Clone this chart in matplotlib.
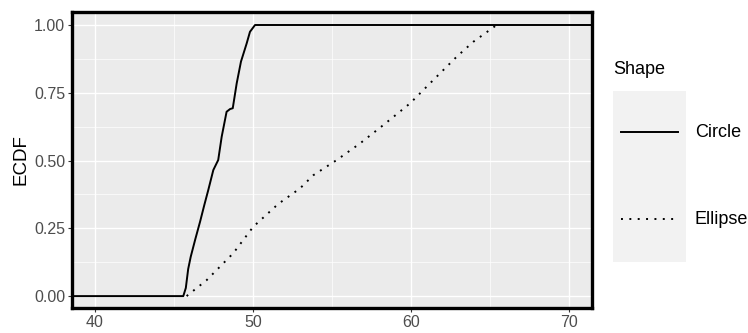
# ECDF of diameter by shape, drawn in ggplot-like style
import matplotlib
matplotlib.use("Agg")
import matplotlib.pyplot as plt
from matplotlib.lines import Line2D
from matplotlib.patches import Rectangle

plt.rcParams['font.family'] = ['Liberation Sans', 'DejaVu Sans']

# ECDF curves (padded at both ends like stat_ecdf)
circle_x = [30, 45.59, 45.75, 45.90, 46.06, 46.35, 46.65, 46.92, 47.17, 47.49,
            47.80, 48.02, 48.33, 48.55, 48.72, 48.97, 49.24, 49.60, 49.81, 50.13, 80]
circle_y = [0.0, 0.0, 0.03, 0.10, 0.145, 0.21, 0.274, 0.336, 0.391, 0.465,
            0.502, 0.588, 0.680, 0.690, 0.693, 0.785, 0.865, 0.932, 0.975, 1.0, 1.0]

ellipse_x = [45.8, 47.07, 48.75, 50.02, 51.6, 52.97, 53.82, 55.3, 56.77, 58.25,
             59.94, 61.41, 62.89, 63.94, 65.42]
ellipse_y = [0.0, 0.059, 0.158, 0.256, 0.34, 0.397, 0.446, 0.502, 0.563, 0.631,
             0.711, 0.797, 0.883, 0.938, 1.0]

shapes = ["Circle", "Ellipse"]
x_ticks = [40, 50, 60, 70]
y_ticks = [0.0, 0.25, 0.5, 0.75, 1.0]
y_labels = ["0.00", "0.25", "0.50", "0.75", "1.00"]

fig = plt.figure(figsize=(7.48, 3.33), dpi=100)
ax = fig.add_axes([0.0963, 0.075, 0.6951, 0.889])
ax.set_facecolor('#EBEBEB')

ax.plot(circle_x, circle_y, color='black', lw=1.4, zorder=3)
ax.plot(ellipse_x, ellipse_y, color='black', lw=1.4, linestyle=(0, (1, 3.3)), zorder=3)

ax.set_xlim(38.55, 71.45)
ax.set_ylim(-0.044, 1.048)
ax.set_xticks(x_ticks)
ax.set_xticks([45, 55, 65], minor=True)
ax.set_yticks(y_ticks)
ax.set_yticklabels(y_labels)
ax.set_yticks([0.125, 0.375, 0.625, 0.875], minor=True)
ax.grid(which='major', color='white', lw=1.0)
ax.grid(which='minor', color='white', lw=0.5)
ax.set_axisbelow(True)
ax.tick_params(which='major', length=3, width=0.8, color='#333333',
               labelcolor='#4D4D4D', labelsize=11.5, pad=2)
ax.tick_params(which='minor', length=0)
for s in ax.spines.values():
    s.set_linewidth(2.4)
    s.set_color('black')
ax.set_ylabel("ECDF", fontsize=13.5, labelpad=3)

# legend drawn by hand to get the ggplot key box
fig.text(0.8195, 0.79, "Shape", fontsize=13, va='center', ha='left')
fig.add_artist(Rectangle((0.8195, 0.2132), 0.0976, 0.5135, transform=fig.transFigure,
                         facecolor='#F2F2F2', edgecolor='none'))
key_y = [0.6036, 0.3423]
styles = ['-', (0, (1, 3.3))]
for lab, ky, ls in zip(shapes, key_y, styles):
    fig.add_artist(Line2D([0.830, 0.906], [ky, ky], transform=fig.transFigure,
                          color='black', lw=1.4, linestyle=ls))
    fig.text(0.929, ky, lab, fontsize=13, va='center', ha='left')

fig.savefig("out.png", dpi=100)
